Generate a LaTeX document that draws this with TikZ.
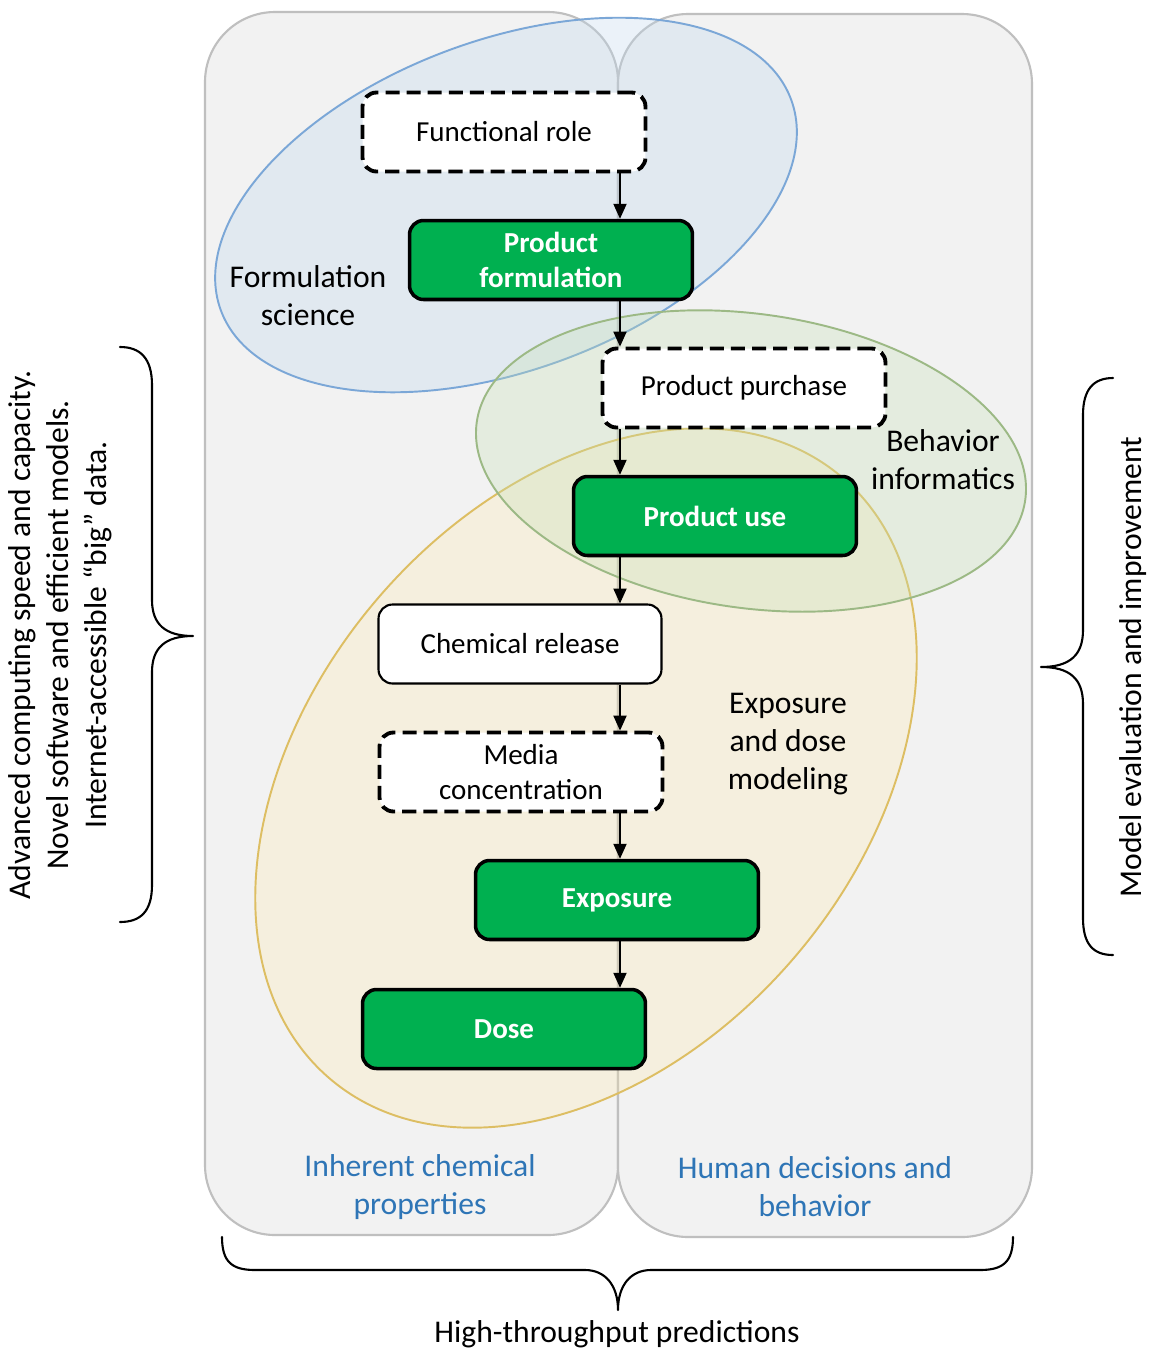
\documentclass[tikz,border=0pt]{standalone}
\usepackage{fontspec}
\setmainfont{Carlito}
\usetikzlibrary{arrows.meta}

\definecolor{panelfill}{HTML}{F2F2F2}
\definecolor{panelline}{HTML}{BFBFBF}
\definecolor{boxgreen}{HTML}{00B050}
\definecolor{blueedge}{HTML}{7BA7D7}
\definecolor{bluefill}{HTML}{BDD7EE}
\definecolor{greenedge}{HTML}{9CB985}
\definecolor{greenfill}{HTML}{C5E0B4}
\definecolor{goldedge}{HTML}{DDBE63}
\definecolor{goldfill}{HTML}{FFE9A6}
\definecolor{labelblue}{HTML}{2E75B6}

\begin{document}
\begin{tikzpicture}[x=0.02cm,y=-0.02cm,
  panel/.style={draw=panelline, line width=1.2pt, fill=panelfill, rounded corners=1.4cm},
  zone/.style={line width=1.1pt, fill opacity=#1},
  flowbox/.style={rectangle, rounded corners=0.28cm, minimum width=5.66cm,
    minimum height=1.58cm, align=center, inner sep=2pt,
    font=\fontsize{16.5}{20}\selectfont},
  dashbox/.style={flowbox, draw=black, fill=white, line width=2.2pt,
    dash pattern=on 8pt off 4pt},
  plainbox/.style={flowbox, draw=black, fill=white, line width=1.2pt},
  greenbox/.style={flowbox, draw=black, fill=boxgreen, line width=2pt,
    text=white, font=\fontsize{16.5}{20}\selectfont\bfseries},
  arr/.style={line width=0.75pt, -{Triangle[width=7.5pt,length=8.5pt]}},
  lbl/.style={align=center, font=\fontsize{18}{21.6}\selectfont},
  brace/.style={line width=1.2pt, line cap=round, line join=round},
]
% canvas
\fill[white] (0,0) rectangle (1151,1350);
\useasboundingbox (0,0) rectangle (1151,1350);

% the two background columns
\draw[panel] (205,12) rectangle (618,1235);
\draw[panel] (618,14) rectangle (1032,1237);

% overlapping domains
\draw[zone=0.3, draw=blueedge, fill=bluefill, rotate around={20.3:(506,205)}]
  (506,205) ellipse [x radius=304, y radius=165];
\draw[zone=0.25, draw=goldedge, fill=goldfill, rotate around={49.6:(586,778)}]
  (586,778) ellipse [x radius=395, y radius=275];
\draw[zone=0.3, draw=greenedge, fill=greenfill, rotate around={-8.1:(751,461)}]
  (751,461) ellipse [x radius=277, y radius=147];

% process chain
\node[dashbox]  (fr) at (504,132)  {Functional role};
\node[greenbox] (pf) at (551,260)  {Product\\formulation};
\node[dashbox]  (pp) at (744,388)  {Product purchase};
\node[greenbox] (pu) at (715,516)  {Product use};
\node[plainbox] (cr) at (520,644)  {Chemical release};
\node[dashbox]  (mc) at (521,772)  {Media\\concentration};
\node[greenbox] (ex) at (617,900)  {Exposure};
\node[greenbox] (ds) at (504,1029) {Dose};

\coordinate (spine) at (620,0);
\draw[arr] (fr.south -| spine) -- (pf.north -| spine);
\draw[arr] (pf.south -| spine) -- (pp.north -| spine);
\draw[arr] (pp.south -| spine) -- (pu.north -| spine);
\draw[arr] (pu.south -| spine) -- (cr.north -| spine);
\draw[arr] (cr.south -| spine) -- (mc.north -| spine);
\draw[arr] (mc.south -| spine) -- (ex.north -| spine);
\draw[arr] (ex.south -| spine) -- (ds.north -| spine);

% domain labels
\node[lbl] (form)  at (308,296) {Formulation\\science};
\node[lbl] (behav) at (943,460) {Behavior\\informatics};
\node[lbl] (expo)  at (788,744) {Exposure\\and dose\\modeling};
\node[lbl, text=labelblue] (inh) at (420,1187) {Inherent chemical\\properties};
\node[lbl, text=labelblue] (hum) at (815,1187) {Human decisions and\\behavior};

% braces and their captions
\draw[brace] (120,347) .. controls (140,347) and (152,358) .. (152,385)
  -- (152,600) .. controls (152,624) and (165,636) .. (193,636)
  .. controls (165,636) and (152,648) .. (152,672)
  -- (152,885) .. controls (152,912) and (140,922) .. (120,922);
\draw[brace] (1113,378) .. controls (1093,378) and (1083,390) .. (1083,415)
  -- (1083,630) .. controls (1083,655) and (1070,667) .. (1041,667)
  .. controls (1070,667) and (1083,679) .. (1083,704)
  -- (1083,918) .. controls (1083,944) and (1093,955) .. (1113,955);
\draw[brace] (222,1237) .. controls (222,1262) and (232,1270) .. (255,1270)
  -- (585,1270) .. controls (605,1270) and (618,1285) .. (618,1310)
  .. controls (618,1285) and (631,1270) .. (651,1270)
  -- (980,1270) .. controls (1003,1270) and (1013,1262) .. (1013,1237);

\node[lbl, rotate=90] (adv) at (60,635)
  {Advanced computing speed and capacity.\\Novel software and efficient models.\\Internet-accessible “big” data.};
\node[lbl, rotate=90] (mod) at (1133,667) {Model evaluation and improvement};
\node[lbl] (htp) at (617,1334) {High-throughput predictions};
\end{tikzpicture}
\end{document}
